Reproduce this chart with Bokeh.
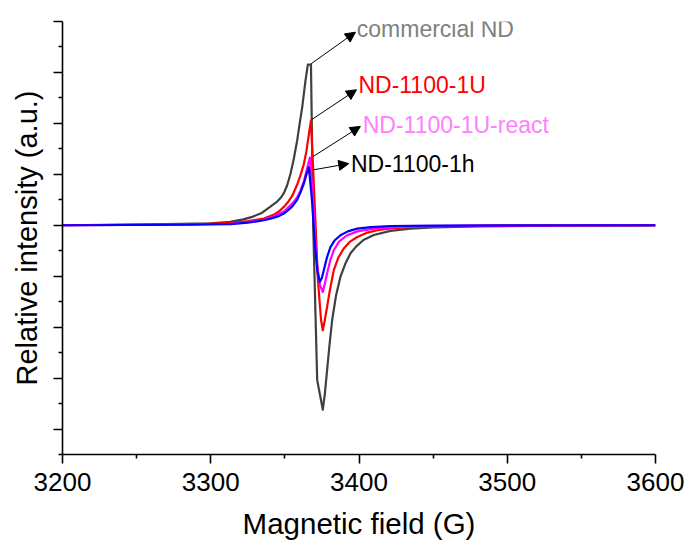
from bokeh.plotting import figure
from bokeh.models import (Range1d, FixedTicker, ColumnDataSource, Arrow, NormalHead,
                          CustomJSTickFormatter)
from bokeh.core.properties import value
from bokeh.embed import file_html
from bokeh.resources import INLINE

# ---- EPR spectra (field in G, relative intensity in a.u.) ----
commercial_x = [3200, 3230, 3260, 3280, 3300, 3313, 3322, 3328, 3334, 3340,
                3345, 3347.5, 3349.3, 3351.5, 3353.8, 3356, 3358.3, 3360, 3361.7, 3363.9,
                3365.5, 3367.6, 3369.1, 3371.8, 3375.6, 3377, 3378.5, 3380, 3381.9, 3384.5,
                3387.5, 3391, 3394.3, 3398, 3403, 3410, 3421.2, 3434.7, 3450, 3480,
                3530, 3600]
commercial_y = [0.0, 0.01, 0.02, 0.027, 0.038, 0.065, 0.115, 0.165, 0.235, 0.36,
                0.47, 0.55, 0.63, 0.78, 1.01, 1.3, 1.665, 2.0, 2.32, 2.84,
                3.154, 3.154, 0.0, -3.04, -3.62, -3.3, -2.84, -2.38, -1.86, -1.38,
                -1.01, -0.74, -0.55, -0.42, -0.29, -0.19, -0.11, -0.065, -0.04, -0.02,
                -0.01, -0.005]

u_x = [3200, 3250, 3290, 3313, 3325, 3335.8, 3342, 3346, 3349.3, 3352,
       3355, 3358.3, 3360.5, 3362.8, 3364.5, 3366, 3367.6, 3370.0, 3372.3, 3374.4,
       3375.6, 3377, 3378.5, 3380.5, 3383, 3386, 3389.7, 3394, 3398.8, 3405,
       3412.3, 3420, 3434.7, 3450, 3500, 3600]
u_y = [0.0, 0.008, 0.02, 0.045, 0.08, 0.13, 0.2, 0.27, 0.36, 0.45,
       0.58, 0.8, 0.98, 1.2, 1.45, 1.75, 2.06, 0.49, -1.08, -1.86,
       -2.06, -1.85, -1.60, -1.25, -0.88, -0.64, -0.456, -0.32, -0.23, -0.15,
       -0.098, -0.065, -0.033, -0.02, -0.008, 0.0]

react_x = [3200, 3280, 3313.3, 3325, 3335.8, 3342, 3346, 3349.3, 3353, 3356,
           3358.3, 3360.5, 3362.8, 3365.0, 3366.9, 3369.0, 3371.3, 3373.7, 3375.6, 3377,
           3378.5, 3380.5, 3383, 3386.5, 3392, 3399, 3410, 3425, 3441.5, 3480,
           3600]
react_y = [0.0, 0.012, 0.03, 0.06, 0.108, 0.17, 0.22, 0.27, 0.37, 0.46,
           0.55, 0.68, 0.86, 1.12, 1.33, 0.49, -0.69, -1.18, -1.31, -1.14,
           -0.94, -0.7, -0.49, -0.32, -0.196, -0.12, -0.065, -0.035, -0.02, -0.008,
           0.0]

h_x = [3200, 3280, 3313.3, 3325, 3335.8, 3340.3, 3346, 3349.3, 3352, 3355,
       3358.3, 3360.5, 3362.8, 3364.8, 3366.2, 3368.3, 3370.3, 3372.0, 3373.6, 3375,
       3376.3, 3378.3, 3380.8, 3383.5, 3387.5, 3392.5, 3398.8, 3408, 3421.2, 3450,
       3600]
h_y = [0.0, 0.01, 0.024, 0.05, 0.098, 0.13, 0.18, 0.23, 0.29, 0.37,
       0.5, 0.64, 0.82, 1.02, 1.14, 0.49, -0.39, -0.92, -1.11, -1.03,
       -0.88, -0.64, -0.425, -0.3, -0.196, -0.12, -0.065, -0.035, -0.014, -0.006,
       0.0]

series_names = ["commercial ND", "ND-1100-1U", "ND-1100-1U-react", "ND-1100-1h"]

x_ticks = [3200, 3300, 3400, 3500, 3600]
x_minor = [3250, 3350, 3450, 3550]
y_ticks = [-4, -3, -2, -1, 0, 1, 2, 3, 4]
y_minor = [-4.5, -3.5, -2.5, -1.5, -0.5, 0.5, 1.5, 2.5, 3.5]

# annotation arrows: tail near each peak, head next to its label
arrow_x0 = [3367.7, 3368.4, 3369.1, 3369.5]
arrow_y0 = [3.17, 2.08, 1.35, 1.09]
arrow_x1 = [3397.6, 3398.3, 3400.9, 3393.1]
arrow_y1 = [3.79, 2.66, 1.94, 1.21]
label_x = [3398.5, 3399.6, 3402.5, 3394.6]
label_y = [3.85, 2.76, 1.96, 1.21]

FONT = "Liberation Sans"

p = figure(width=686, height=542, output_backend="svg", toolbar_location=None,
           x_range=Range1d(3200, 3600), y_range=Range1d(-4.5, 4),
           min_border_left=62, min_border_right=31, min_border_top=21, min_border_bottom=88)
p.outline_line_color = None
p.xgrid.visible = False
p.ygrid.visible = False
p.background_fill_color = "white"
p.border_fill_color = "white"

line_colors = ["#404040", "#ff0000", "#ff00ff", "#0000ff"]
for xs, ys, c in zip([commercial_x, u_x, react_x, h_x],
                     [commercial_y, u_y, react_y, h_y], line_colors):
    p.line(xs, ys, line_color=c, line_width=2.2, line_join="round")

arrows = ColumnDataSource(dict(x0=arrow_x0, y0=arrow_y0, x1=arrow_x1, y1=arrow_y1))
p.add_layout(Arrow(source=arrows, x_start="x0", y_start="y0", x_end="x1", y_end="y1",
                   line_color="black", line_width=1,
                   end=NormalHead(size=10, fill_color="black", line_color="black", line_width=1)))

label_colors = ["#808080", "#ff0000", "#ff80ff", "#000000"]
p.text(x=label_x, y=label_y, text=series_names, text_color=label_colors,
       text_font=value(FONT), text_font_size="23px", text_align="left",
       text_baseline="middle")

# axes
xa = p.xaxis[0]
xa.ticker = FixedTicker(ticks=x_ticks, minor_ticks=x_minor)
xa.axis_label = "Magnetic field (G)"
ya = p.yaxis[0]
ya.ticker = FixedTicker(ticks=y_ticks, minor_ticks=y_minor)
ya.axis_label = "Relative intensity (a.u.)"
ya.formatter = CustomJSTickFormatter(code="return ''")

for ax in (xa, ya):
    ax.axis_line_width = 1.6
    ax.major_tick_line_width = 1.6
    ax.minor_tick_line_width = 1.6
    ax.major_tick_in = 0
    ax.major_tick_out = 9
    ax.minor_tick_in = 0
    ax.minor_tick_out = 4
    ax.axis_label_text_font = FONT
    ax.axis_label_text_font_style = "normal"
    ax.axis_label_text_color = "black"
    ax.major_label_text_font = FONT
    ax.major_label_text_color = "black"

xa.axis_label_text_font_size = "29.5px"
xa.major_label_text_font_size = "26px"
xa.major_label_standoff = 9
xa.axis_label_standoff = 13
ya.axis_label_text_font_size = "29px"
ya.major_label_standoff = 0
ya.axis_label_standoff = 11

open("out.html", "w").write(file_html(p, INLINE))
